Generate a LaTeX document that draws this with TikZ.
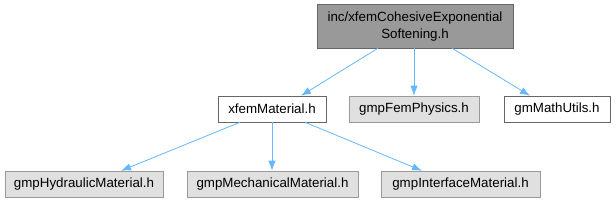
\documentclass[tikz,border=0pt]{standalone}
\usepackage{fontspec}
\setmainfont{Liberation Sans}
\usepackage{tikz}
\usetikzlibrary{arrows.meta,positioning,calc}
\definecolor{edgeblue}{HTML}{63B8FF}
\definecolor{rimdark}{HTML}{666666}
\definecolor{rimgray}{HTML}{999999}
\definecolor{fillgray}{HTML}{E0E0E0}
\tikzset{header/.style={rectangle,draw=rimdark,fill=white,inner xsep=0pt,inner ysep=0pt,minimum height=19.5pt,font=\fontsize{10}{12.75}\selectfont},extheader/.style={header,draw=rimgray,fill=fillgray},mainheader/.style={header,fill=rimgray,align=center},incl/.style={-{Latex[length=7.5pt,width=5.5pt]},edgeblue,line width=.6pt}}
\begin{document}
\begin{tikzpicture}[x=0.75pt,y=-0.75pt]
\useasboundingbox (0,0) rectangle (616,203);
\node[mainheader,minimum width=147pt,minimum height=32.6pt] (top) at (415,26.2) {inc/xfemCohesiveExponential\\Softening.h};
\node[header,minimum width=81pt] (xfem) at (272,109) {xfemMaterial.h};
\node[extheader,minimum width=97.5pt] (fem) at (414,109) {gmpFemPhysics.h};
\node[header,minimum width=79.5pt] (math) at (557,109) {gmMathUtils.h};
\node[extheader,minimum width=118.5pt] (hyd) at (84,184) {gmpHydraulicMaterial.h};
\node[extheader,minimum width=128.25pt] (mech) at (272.5,184) {gmpMechanicalMaterial.h};
\node[extheader,minimum width=119.25pt] (intf) at (460.5,184) {gmpInterfaceMaterial.h};
% include edges
\draw[incl] ($(top.south)+(-37,0)$) -- ($(xfem.north)+(29,0)$);
\draw[incl] (top.south -| fem.north) -- (fem.north);
\draw[incl] ($(top.south)+(37,0)$) -- ($(math.north)+(-27,0)$);
\draw[incl] ($(xfem.south)+(-32,0)$) -- ($(hyd.north)+(37,0)$);
\draw[incl] (xfem.south) -- (xfem.south |- mech.north);
\draw[incl] ($(xfem.south)+(33,0)$) -- ($(intf.north)+(-38.5,0)$);
\end{tikzpicture}
\end{document}
